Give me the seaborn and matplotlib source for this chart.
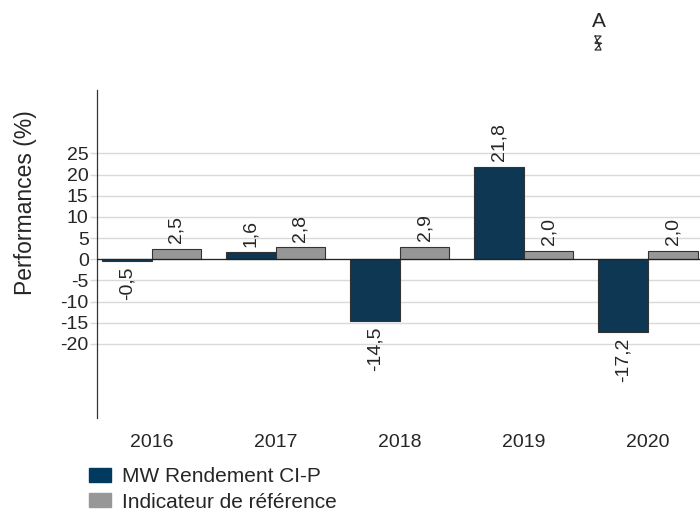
import pandas as pd
import matplotlib
matplotlib.use("Agg")
import matplotlib.pyplot as plt
from matplotlib.lines import Line2D
import seaborn as sns

# Chart data
years = ["2016", "2017", "2018", "2019", "2020"]
fund_name = "MW Rendement CI-P"
bench_name = "Indicateur de référence"
fund_perf = [-0.5, 1.6, -14.5, 21.8, -17.2]
bench_perf = [2.5, 2.8, 2.9, 2.0, 2.0]
y_ticks = [-20, -15, -10, -5, 0, 5, 10, 15, 20, 25]

FUND_COLOR = "#013a5e"
BENCH_COLOR = "#979797"

df = pd.DataFrame({
    "year": years * 2,
    "perf": fund_perf + bench_perf,
    "series": [fund_name] * len(years) + [bench_name] * len(years),
})

sns.set_style("white")
plt.rcParams["font.family"] = ["Liberation Sans", "DejaVu Sans"]

W, H = 700, 511
fig = plt.figure(figsize=(W / 100, H / 100), dpi=100)
ax = fig.add_axes([0.1386, 0.182, 0.8614, 0.642])

sns.barplot(
    data=df, x="year", y="perf", hue="series",
    palette=[FUND_COLOR, BENCH_COLOR], width=0.8,
    edgecolor="#333333", linewidth=0.8, ax=ax, legend=False,
)

ax.set_ylim(-37.5, 40)
ax.set_xlim(-0.44, 4.42)
ax.set_yticks(y_ticks)
ax.set_yticklabels([str(t) for t in y_ticks], fontsize=14)
ax.grid(axis="y", color="#d9d9d9", linewidth=1)
ax.set_axisbelow(True)
ax.axhline(0, color="#222222", linewidth=0.9, zorder=3)

for side in ["top", "right", "bottom"]:
    ax.spines[side].set_visible(False)
ax.spines["left"].set_color("#333333")
ax.spines["left"].set_linewidth(0.9)

ax.tick_params(axis="y", left=True, length=5, width=1, color="#d9d9d9", pad=1)
ax.tick_params(axis="x", bottom=False, labelsize=14, pad=8)
ax.set_xlabel("")
ax.set_ylabel("Performances (%)", fontsize=16.5)
ax.yaxis.set_label_coords(-0.099, 0.655)

# rotated value labels with comma decimals
for container, vals in zip(ax.containers, [fund_perf, bench_perf]):
    ax.bar_label(container, labels=[f"{v:.1f}".replace(".", ",") for v in vals],
                 rotation=90, padding=4, fontsize=14)

# legend under the chart
handles = [plt.Rectangle((0, 0), 1, 1, color=FUND_COLOR),
           plt.Rectangle((0, 0), 1, 1, color=BENCH_COLOR)]
fig.legend(handles, [fund_name, bench_name], loc="upper left",
           bbox_to_anchor=(0.112, 0.106), frameon=False, fontsize=15,
           handlelength=1.05, handleheight=0.65, handletextpad=0.55,
           labelspacing=0.3, borderpad=0)

fig.text(0.855, 0.957, "A", fontsize=15, ha="center", va="center")

# small stacked hourglass mark under the "A" (no installed font has it)
cx, top, bot, hw = 598, 36, 50, 3
mid = (top + bot) / 2
path_x = [cx - hw, cx + hw, cx - hw, cx + hw, cx - hw, cx + hw, cx - hw]
path_y = [top, top, mid, mid, bot, bot, top]
fig.add_artist(Line2D([p / W for p in path_x], [1 - p / H for p in path_y],
                      color="#333333", linewidth=0.9))
fig.add_artist(Line2D([(cx - hw) / W, (cx + hw) / W], [1 - mid / H, 1 - mid / H],
                      color="#333333", linewidth=0.9))

fig.savefig("out.png", dpi=100)
